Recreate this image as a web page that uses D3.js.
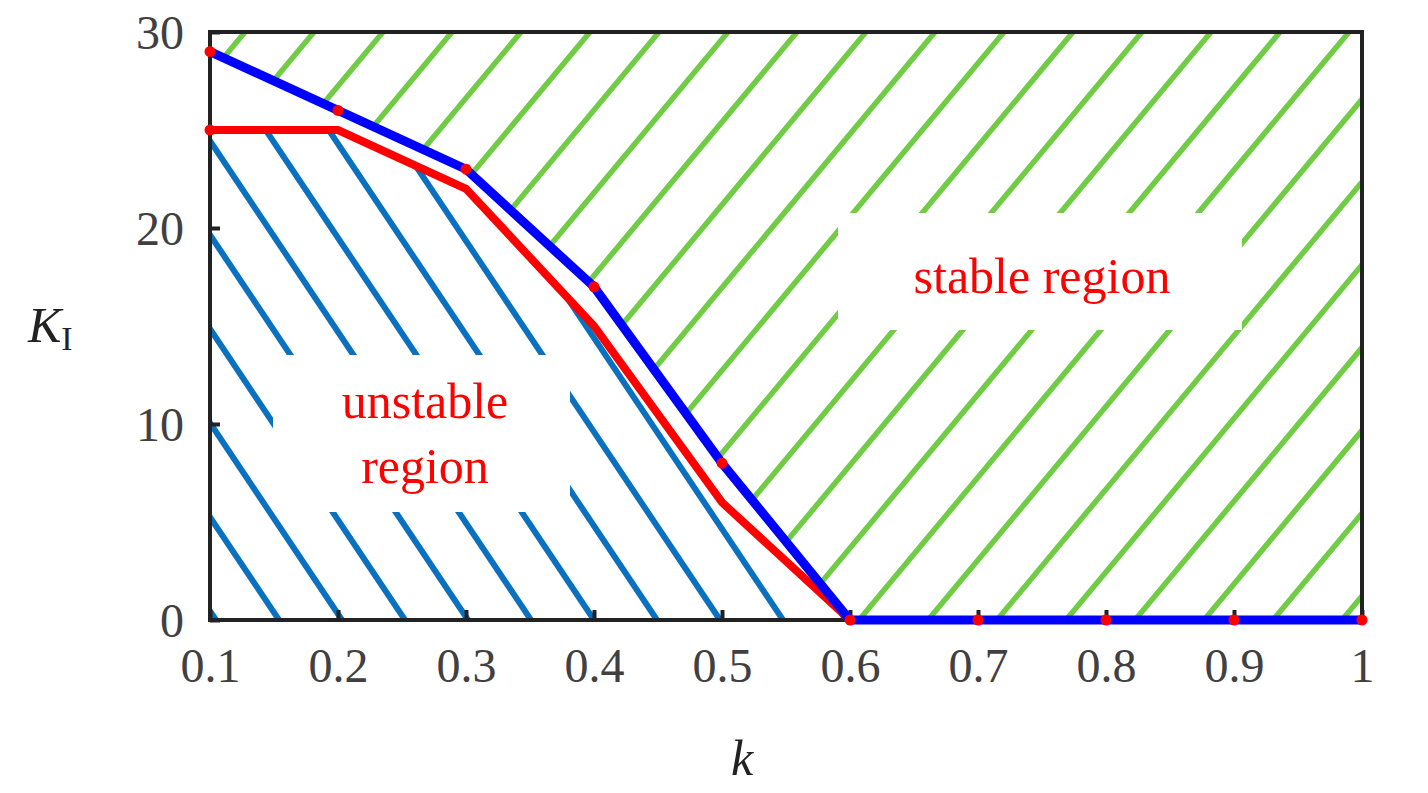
<!DOCTYPE html>
<html><head><meta charset="utf-8">
<script src="https://cdn.jsdelivr.net/npm/d3@7"></script>
<style>body{margin:0;background:#fff}</style></head>
<body><svg id="c" width="1428" height="793"></svg>
<script>
const kValues = [0.1,0.2,0.3,0.4,0.5,0.6,0.7,0.8,0.9,1.0];
const tickLabels = ["0.1","0.2","0.3","0.4","0.5","0.6","0.7","0.8","0.9","1"];
const blueKI = [29,26,23,17,8,0,0,0,0,0];
const redK = [0.1,0.2,0.3,0.4,0.5,0.6];
const redKI = [25,25,22,15,6,0];
const yTicks = [0,10,20,30];

const svg = d3.select("#c");
const L=210,R=1362,T=32,B=620;
const x = d3.scaleLinear().domain([0.1,1]).range([L,R]);
const y = d3.scaleLinear().domain([0,30]).range([B,T]);
const defs = svg.append("defs");
const serif = "'Liberation Serif','Times New Roman',serif";

const blueData = kValues.map((k,i)=>[k,blueKI[i]]);
const redData = redK.map((k,i)=>[k,redKI[i]]);

// clip regions
const above = [[0.1,30],...blueData,[1,30]];
defs.append("clipPath").attr("id","stab").append("path")
  .attr("d", d3.line().x(d=>x(d[0])).y(d=>y(d[1]))(above)+"Z");
const below = [[0.1,0],...redData];
defs.append("clipPath").attr("id","unst").append("path")
  .attr("d", d3.line().x(d=>x(d[0])).y(d=>y(d[1]))(below)+"Z");

// green hatching (up-right)
const g1 = svg.append("g").attr("clip-path","url(#stab)");
for(let x0=L-800; x0<R+100; x0+=69){
  g1.append("line").attr("x1",x0).attr("y1",B).attr("x2",x0+(B-T)/1.2).attr("y2",T)
    .attr("stroke","#70cc44").attr("stroke-width",5.5).attr("stroke-linecap","round");
}
// blue hatching (down-right)
const g2 = svg.append("g").attr("clip-path","url(#unst)");
for(let xb=L+13-700; xb<R; xb+=63){
  g2.append("line").attr("x1",xb-(B-T)*0.67).attr("y1",T).attr("x2",xb).attr("y2",B)
    .attr("stroke","#0a70c0").attr("stroke-width",6).attr("stroke-linecap","round");
}

// label boxes
svg.append("rect").attr("x",273).attr("y",355).attr("width",297).attr("height",157).attr("fill","#fff");
svg.append("rect").attr("x",838).attr("y",213).attr("width",404).attr("height",117).attr("fill","#fff");
svg.append("text").attr("x",425).attr("y",418).attr("text-anchor","middle").attr("font-family",serif)
  .attr("font-size",50).attr("fill","#ff0000").text("unstable");
svg.append("text").attr("x",425).attr("y",483).attr("text-anchor","middle").attr("font-family",serif)
  .attr("font-size",50).attr("fill","#ff0000").text("region");
svg.append("text").attr("x",1042).attr("y",293).attr("text-anchor","middle").attr("font-family",serif)
  .attr("font-size",50).attr("fill","#ff0000").text("stable region");

// frame
svg.append("rect").attr("x",L).attr("y",T).attr("width",R-L).attr("height",B-T)
  .attr("fill","none").attr("stroke","#222").attr("stroke-width",4);
// ticks inward
const xa = svg.append("g").attr("transform",`translate(0,${B})`)
  .call(d3.axisBottom(x).tickValues(kValues).tickFormat((d,i)=>tickLabels[i]).tickSizeInner(-10).tickSizeOuter(0).tickPadding(28));
xa.select(".domain").remove();
xa.selectAll("line").attr("stroke","#222").attr("stroke-width",4);
xa.selectAll("text").attr("font-family",serif).attr("font-size",48).attr("fill","#404040");
const ya = svg.append("g").attr("transform",`translate(${L},0)`)
  .call(d3.axisLeft(y).tickValues(yTicks).tickSizeInner(-10).tickSizeOuter(0).tickPadding(26));
ya.select(".domain").remove();
ya.selectAll("line").attr("stroke","#222").attr("stroke-width",4);
ya.selectAll("text").attr("font-family",serif).attr("font-size",48).attr("fill","#404040").attr("dy","0.35em");

// lines
const ln = d3.line().x(d=>x(d[0])).y(d=>y(d[1]));
svg.append("path").attr("d",ln(redData)).attr("fill","none").attr("stroke","#ff0000").attr("stroke-width",8);
svg.append("path").attr("d",ln(blueData)).attr("fill","none").attr("stroke","#0000ff").attr("stroke-width",9);
svg.selectAll(".dot").data(blueData.concat([redData[0]])).enter().append("circle")
  .attr("cx",d=>x(d[0])).attr("cy",d=>y(d[1])).attr("r",5.5).attr("fill","#ff0000");

// axis titles
const t = svg.append("text").attr("x",28).attr("y",342).attr("font-family",serif).attr("font-size",50).attr("fill","#222");
t.append("tspan").attr("font-style","italic").text("K");
t.append("tspan").attr("font-size",34).attr("dy",8).text("I");
svg.append("text").attr("x",742).attr("y",775).attr("text-anchor","middle").attr("font-family",serif)
  .attr("font-size",50).attr("font-style","italic").attr("fill","#222").text("k");
</script></body></html>
